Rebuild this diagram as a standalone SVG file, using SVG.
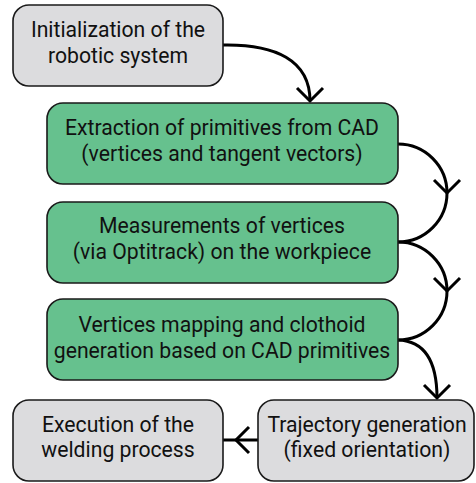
<svg xmlns="http://www.w3.org/2000/svg" width="476" height="483" viewBox="0 0 476 483">
<style>
  .box { stroke: #1a1a1a; stroke-width: 1.6; }
  .gray { fill: #dcdcde; }
  .green { fill: #66c18e; }
  .t { font-family: Roboto, "Liberation Sans", sans-serif; font-size: 21.2px; fill: #111; text-anchor: middle; }
  .conn { fill: none; stroke: #000; stroke-width: 3; }
</style>
<defs>
  <marker id="chev" viewBox="-15 -15 18 30" refX="0" refY="0" markerWidth="18" markerHeight="30" markerUnits="userSpaceOnUse" orient="auto">
    <path d="M-13,-13 L0,0 L-13,13" fill="none" stroke="#000" stroke-width="3"/>
  </marker>
</defs>
<rect width="476" height="483" fill="#fff"/>
<g id="connectors">
  <path class="conn" d="M223,45 C275,44 310,60 310,101" marker-end="url(#chev)"/>
  <path class="conn" d="M398,144 A49,49 0 0 1 447,193 A49,49 0 0 1 398,242" marker-mid="url(#chev)"/>
  <path class="conn" d="M398,242 A49,49 0 0 1 447,291 A49,49 0 0 1 398,340" marker-mid="url(#chev)"/>
  <path class="conn" d="M398,340 C427,341 437,365 437,398" marker-end="url(#chev)"/>
  <path class="conn" d="M258,440 L236,440 L223,440" marker-mid="url(#chev)"/>
</g>
<g id="n1">
  <rect class="box gray" x="13" y="5" width="210" height="81" rx="16"/>
  <text class="t" x="118" y="37">Initialization of the</text>
  <text class="t" x="118" y="63">robotic system</text>
</g>
<g id="n2">
  <rect class="box green" x="47" y="103" width="351" height="81" rx="16"/>
  <text class="t" x="222" y="135">Extraction of primitives from CAD</text>
  <text class="t" x="222" y="161">(vertices and tangent vectors)</text>
</g>
<g id="n3">
  <rect class="box green" x="47" y="202" width="351" height="81" rx="16"/>
  <text class="t" x="222" y="233">Measurements of vertices</text>
  <text class="t" x="222" y="259">(via Optitrack) on the workpiece</text>
</g>
<g id="n4">
  <rect class="box green" x="47" y="299" width="351" height="81" rx="16"/>
  <text class="t" x="222" y="332">Vertices mapping and clothoid</text>
  <text class="t" x="222" y="358">generation based on CAD primitives</text>
</g>
<g id="n5">
  <rect class="box gray" x="13" y="400" width="210" height="81" rx="16"/>
  <text class="t" x="118" y="432">Execution of the</text>
  <text class="t" x="118" y="457">welding process</text>
</g>
<g id="n6">
  <rect class="box gray" x="258" y="400" width="216" height="81" rx="16"/>
  <text class="t" x="367" y="432">Trajectory generation</text>
  <text class="t" x="367" y="457">(fixed orientation)</text>
</g>
</svg>
